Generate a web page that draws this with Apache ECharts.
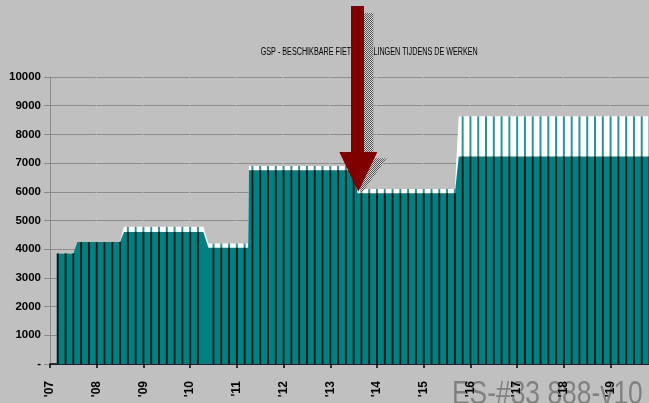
<!DOCTYPE html>
<html>
<head>
<meta charset="utf-8">
<script src="https://cdn.jsdelivr.net/npm/echarts@6/dist/echarts.min.js"></script>
<style>
html,body{margin:0;padding:0;background:#c0c0c0;}
#chart{width:649px;height:403px;}
</style>
</head>
<body>
<div id="chart"></div>
<script>
// months counted from Jan 2007 (= 0); each entry is one flat stretch of the chart
const levelStart = [2, 7, 19, 40.7, 51.1, 79, 105];
const levelEnd = [6, 18, 39.4, 50.9, 78, 104, 156];
const tealValues = [3850, 4250, 4600, 4050, 6750, 5950, 7230];
const whiteValues = [0, 0, 180, 150, 150, 150, 1400];
const yearLabels = ["'07","'08","'09","'10","'11","'12","'13","'14","'15","'16","'17","'18","'19"];
const yLabels = ['-','1000','2000','3000','4000','5000','6000','7000','8000','9000','10000'];
const chartTitle = 'GSP - BESCHIKBARE FIETSSTALLINGEN TIJDENS DE WERKEN';
const docRef = 'ES-#33 888-v10';

const tealLine = [];
const totalLine = [];
levelStart.forEach((s, i) => {
  tealLine.push([s, tealValues[i]], [levelEnd[i], tealValues[i]]);
  const t = tealValues[i] + whiteValues[i];
  totalLine.push([s, t], [levelEnd[i], t]);
});

// thin separators every two months, as high as the stretch they sit in
const darkStripe = [];
const lightStripe = [];
for (let m = 0; m <= 156; m += 2) {
  const i = levelStart.findIndex((s, k) => m >= s && m <= levelEnd[k]);
  if (i < 0) continue;
  darkStripe.push([m, tealValues[i]]);
  lightStripe.push([m, tealValues[i] + whiteValues[i]]);
}

const pat = document.createElement('canvas');
pat.width = 2; pat.height = 2;
const pc = pat.getContext('2d');
pc.fillStyle = '#d6d6d6'; pc.fillRect(0, 0, 2, 2);
pc.fillStyle = '#555'; pc.fillRect(0, 0, 1, 1); pc.fillRect(1, 1, 1, 1);

const font = 'Liberation Sans';
const myChart = echarts.init(document.getElementById('chart'));
const option = {
  animation: false,
  backgroundColor: '#c0c0c0',
  // plot runs past the right edge of the picture, as in the original
  grid: { left: 50, right: -8.3, top: 77, bottom: 39, outerBoundsMode: 'none', containLabel: false },
  xAxis: {
    type: 'value', min: 0, max: 156, interval: 12,
    axisLine: { lineStyle: { color: '#000', width: 1.5 } },
    axisTick: { length: 4, lineStyle: { color: '#000', width: 1.5 } },
    axisLabel: {
      rotate: 90, margin: 17, fontSize: 12, fontWeight: 'bold', fontFamily: font, color: '#000',
      formatter: v => yearLabels[v / 12] || ''
    },
    splitLine: { show: false }
  },
  yAxis: {
    type: 'value', min: 0, max: 10000, interval: 1000,
    axisLine: { show: true, lineStyle: { color: '#8a8a8a' } },
    axisTick: { show: true, length: 6, lineStyle: { color: '#8a8a8a' } },
    axisLabel: {
      margin: 9, fontSize: 11.5, fontWeight: 'bold', fontFamily: font, color: '#000',
      padding: [6, 0, 0, 0],
      formatter: v => yLabels[v / 1000]
    },
    splitLine: { lineStyle: { color: '#8c8c8c', width: 1, type: [45.7, 1] } }
  },
  series: [
    { type: 'line', data: totalLine, symbol: 'none', lineStyle: { width: 0 },
      areaStyle: { color: '#ffffff', opacity: 1 }, z: 2 },
    { type: 'line', data: tealLine, symbol: 'none', lineStyle: { width: 0 },
      areaStyle: { color: '#008080', opacity: 1 }, z: 3 },
    { type: 'bar', data: lightStripe, barWidth: 2, barGap: '-100%', itemStyle: { color: '#2c9494' }, z: 4 },
    { type: 'bar', data: darkStripe, barWidth: 2, barGap: '-100%', itemStyle: { color: '#031c1c' }, z: 5 }
  ],
  graphic: [
    { type: 'text', x: 452, y: 378, scaleX: 0.8, z: -1,
      style: { text: docRef, font: '33px "Liberation Sans"', fill: '#808080' } },
    { type: 'text', x: 260.7, y: 47, scaleX: 0.72, z: 8,
      style: { text: chartTitle, font: '10px "Liberation Sans"', fill: '#000' } },
    { type: 'polygon', z: 9,
      shape: { points: [[360.4, 13], [373.3, 13], [373.3, 158.3], [386.7, 158.3], [361.7, 193.3], [348.7, 158.3], [360.4, 158.3]] },
      style: { fill: { image: pat, repeat: 'repeat' } } },
    { type: 'polygon', z: 10,
      shape: { points: [[351, 6], [364, 6], [364, 152], [377.3, 152], [358.3, 191.7], [339.3, 152], [351, 152]] },
      style: { fill: '#800000' } }
  ]
};
myChart.setOption(option);
</script>
</body>
</html>
